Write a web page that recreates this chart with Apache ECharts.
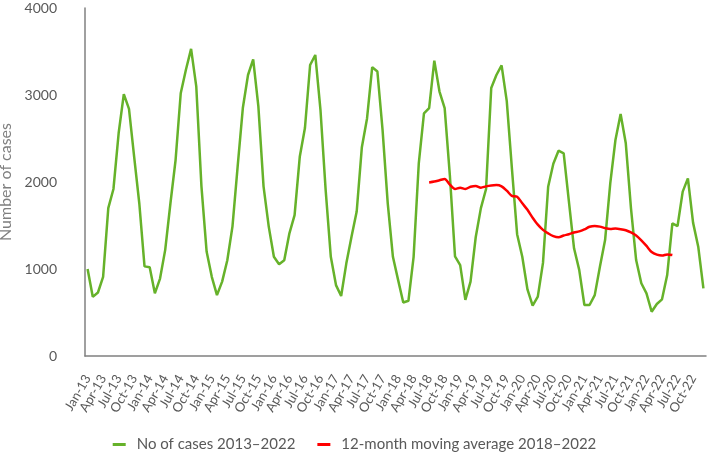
<!DOCTYPE html>
<html><head><meta charset="utf-8">
<script src="https://cdn.jsdelivr.net/npm/echarts@6/dist/echarts.min.js"></script>
<style>html,body{margin:0;padding:0;background:#fff}#c{width:709px;height:463px}</style>
</head><body><div id="c"></div>
<script>
const years = ['13','14','15','16','17','18','19','20','21','22'];
const monthNames = ['Jan','Feb','Mar','Apr','May','Jun','Jul','Aug','Sep','Oct','Nov','Dec'];
const categories = [];
years.forEach(y => monthNames.forEach(m => categories.push(m + '-' + y)));

const cases = [
  1000, 680, 730, 910, 1700, 1920, 2560, 3010, 2840, 2290, 1750, 1030,
  1020, 720, 890, 1220, 1750, 2250, 3020, 3290, 3530, 3100, 1950, 1200,
  910, 700, 855, 1100, 1490, 2180, 2850, 3230, 3410, 2870, 1950, 1490,
  1140, 1055, 1100, 1410, 1620, 2290, 2620, 3345, 3460, 2830, 1910, 1140,
  815, 690, 1065, 1370, 1660, 2400, 2730, 3320, 3270, 2600, 1755, 1140,
  875, 615, 635, 1140, 2215, 2790, 2850, 3395, 3040, 2850, 2080, 1145,
  1045, 645, 855, 1365, 1700, 1920, 3080, 3230, 3340, 2930, 2150, 1400,
  1140, 765, 578, 682, 1070, 1945, 2210, 2360, 2330, 1780, 1238, 990,
  586, 586, 700, 1026, 1333, 1985, 2483, 2782, 2445, 1700, 1103, 836,
  720, 509, 598, 651, 931, 1525, 1494, 1889, 2042, 1533, 1257, 778
];

// 12-month moving average, Jul-18 to Jun-22
const movingAvgStart = 'Jul-18';
const movingAvg = [
  1995, 2005, 2020, 2035, 1970, 1920,
  1935, 1920, 1945, 1955, 1935, 1950, 1960, 1965, 1950, 1900, 1840, 1830,
  1755, 1680, 1590, 1510, 1450, 1410, 1378, 1365, 1385, 1400, 1420, 1432,
  1455, 1485, 1495, 1487, 1470, 1460, 1465, 1458, 1445, 1420, 1385, 1330,
  1265, 1195, 1165, 1155, 1168, 1160
];
const yTicks = [0, 1000, 2000, 3000, 4000];

const startIdx = categories.indexOf(movingAvgStart);
const maSeries = categories.map((c, i) => {
  const k = i - startIdx;
  return (k >= 0 && k < movingAvg.length) ? movingAvg[k] : null;
});

const chart = echarts.init(document.getElementById('c'), null, {renderer: 'canvas'});
const txt = '#595959';
chart.setOption({
  animation: false,
  textStyle: {fontFamily: 'Lato'},
  grid: {left: 85, right: 3, top: 8, bottom: 107, containLabel: false, outerBoundsMode: 'none'},
  legend: {
    top: 432, left: 'center', itemGap: 22, itemWidth: 13, itemHeight: 3,
    textStyle: {color: txt, fontSize: 15, fontFamily: 'Lato', padding: [0, 0, 0, 6]},
    data: [
      {name: 'No of cases 2013\u20132022', icon: 'rect'},
      {name: '12-month moving average 2018\u20132022', icon: 'rect'}
    ]
  },
  xAxis: {
    type: 'category', data: categories, boundaryGap: true,
    axisLine: {lineStyle: {color: '#808080', width: 1.5}},
    axisTick: {show: false},
    axisLabel: {interval: 2, rotate: 60, color: txt, fontSize: 13, margin: 20, fontFamily: 'Lato'}
  },
  yAxis: {
    type: 'value', min: yTicks[0], max: yTicks[yTicks.length - 1], interval: 1000,
    name: 'Number of cases', nameLocation: 'middle', nameGap: 70,
    nameTextStyle: {color: '#7f7f7f', fontSize: 16, fontFamily: 'Lato'},
    axisLine: {show: true, lineStyle: {color: '#808080', width: 1.5}},
    axisTick: {show: false},
    splitLine: {show: false},
    axisLabel: {color: txt, fontSize: 14, margin: 28, fontFamily: 'Lato',
      formatter: v => String(v)}
  },
  series: [
    {name: 'No of cases 2013\u20132022', type: 'line', data: cases, symbol: 'none',
     itemStyle: {color: '#66b22a'}, lineStyle: {color: '#66b22a', width: 2.5}},
    {name: '12-month moving average 2018\u20132022', type: 'line', data: maSeries, symbol: 'none',
     smooth: 0.3, connectNulls: false,
     itemStyle: {color: '#ff0000'}, lineStyle: {color: '#ff0000', width: 2.5}}
  ]
});
</script></body></html>
